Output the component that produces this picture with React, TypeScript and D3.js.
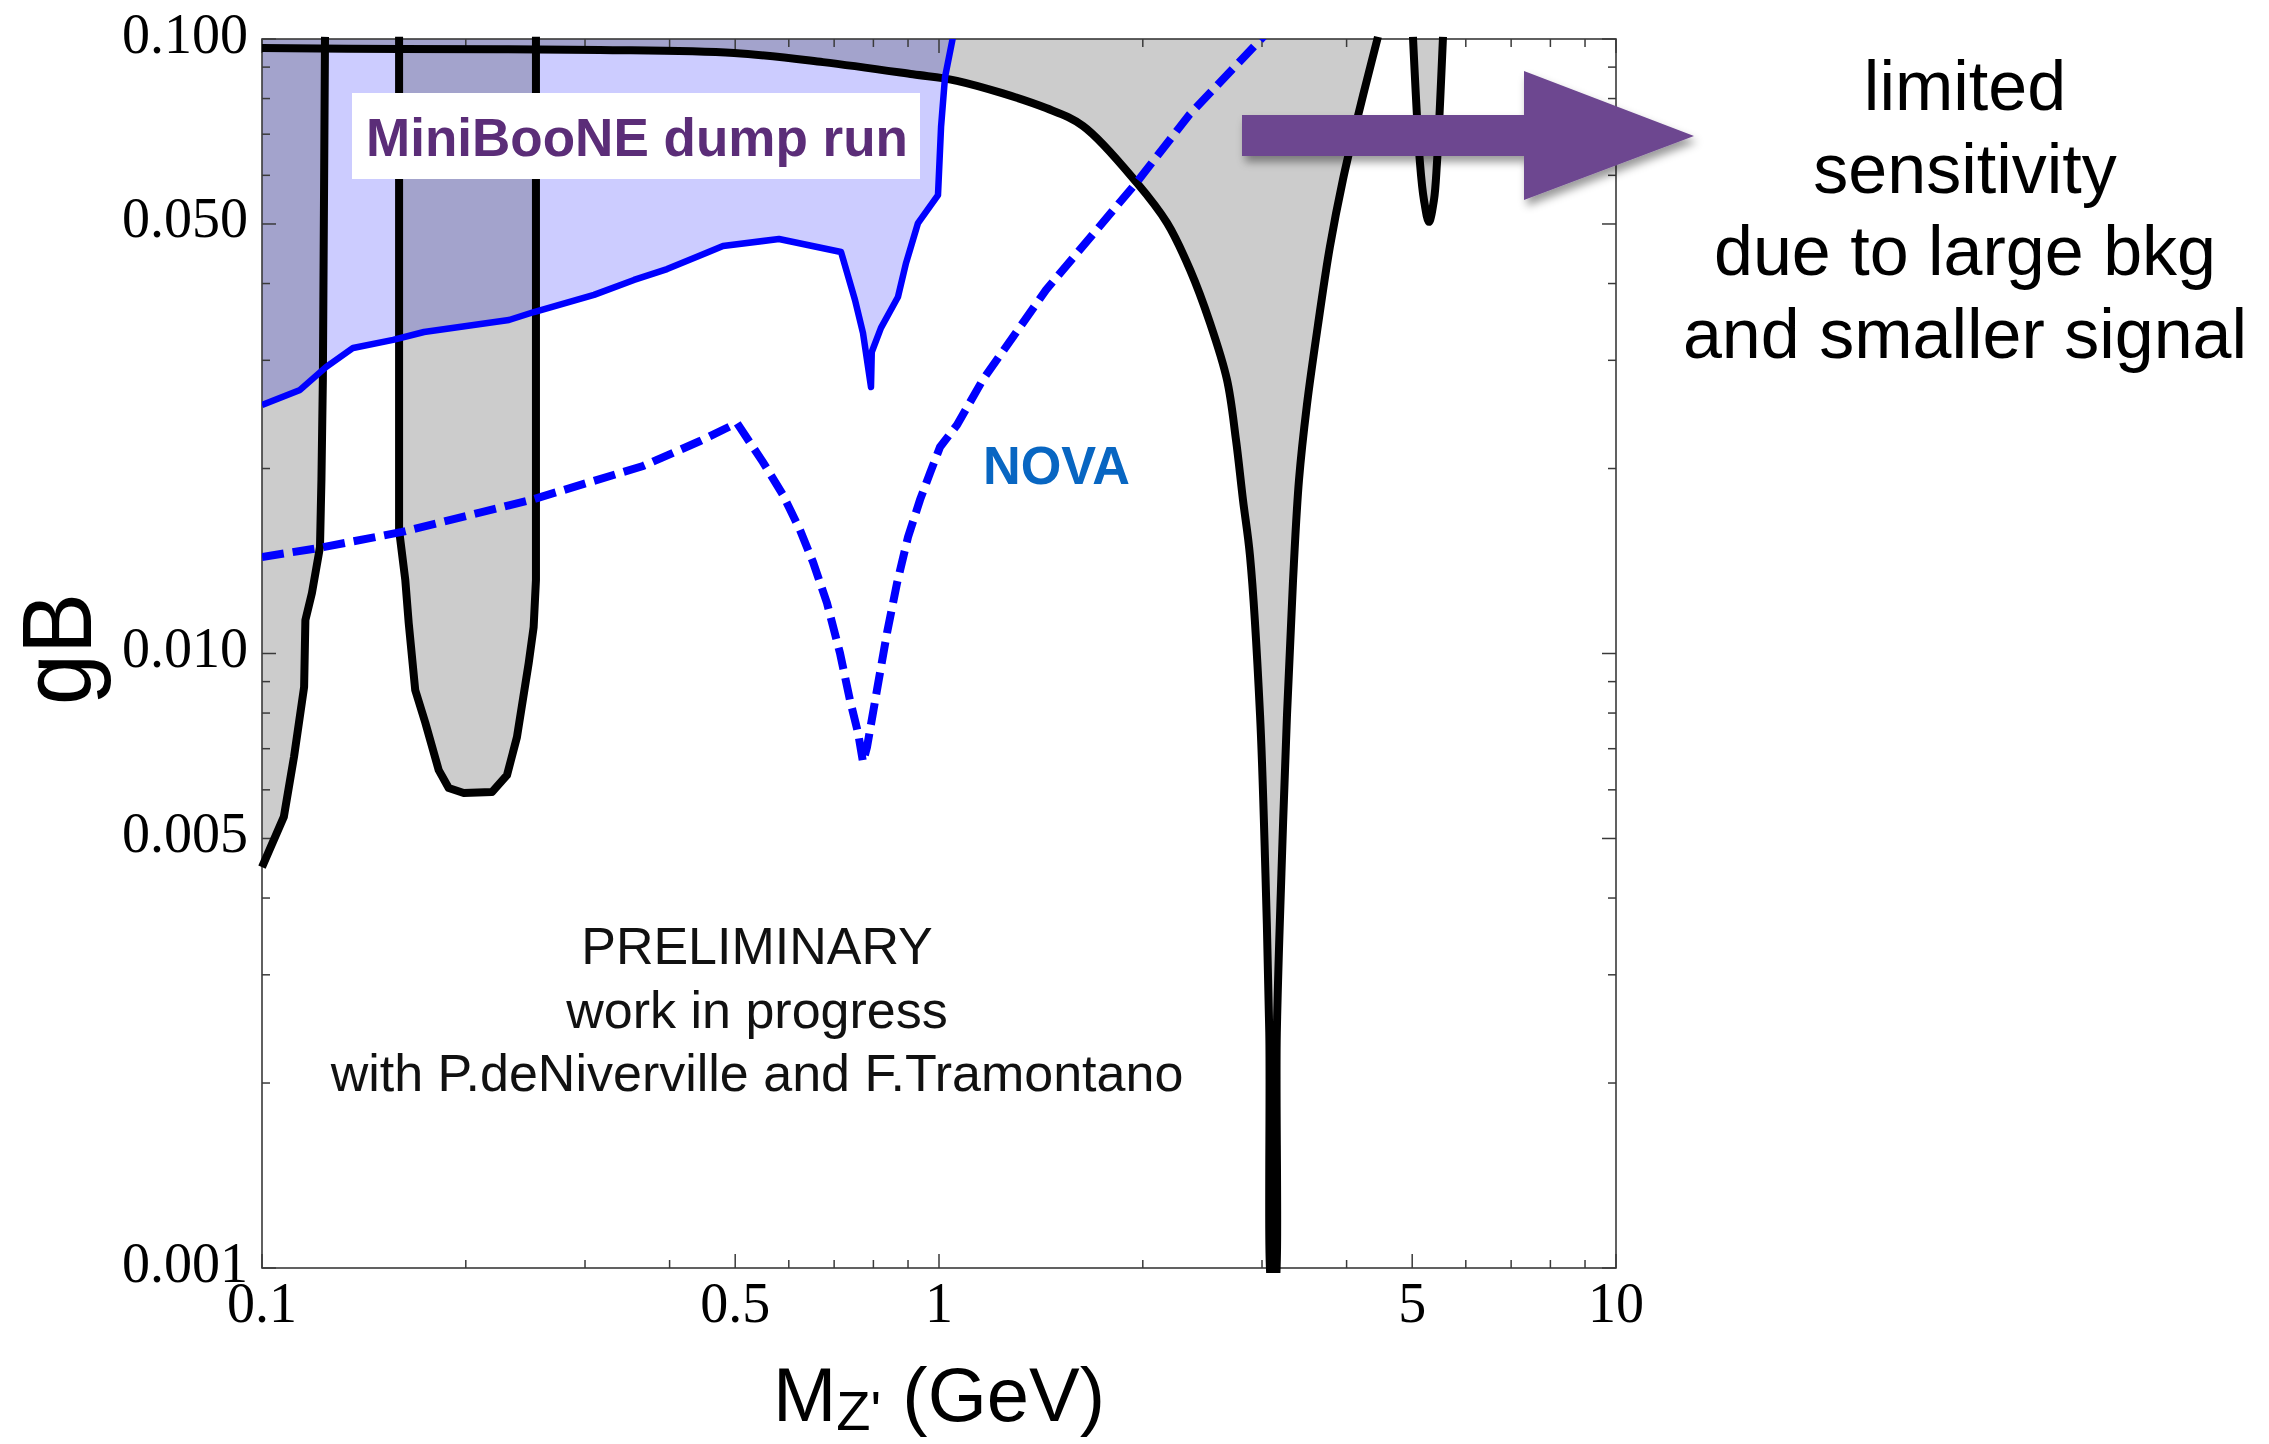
import React from 'react';
import * as d3 from 'd3';

type P = [number, number];

// ---- axes ----
const massMajorTicks = [0.1, 0.5, 1, 5, 10];
const massTickLabels = ['0.1', '0.5', '1', '5', '10'];
const massMinorTicks = [0.2, 0.3, 0.4, 0.6, 0.7, 0.8, 0.9, 2, 3, 4, 6, 7, 8, 9];
const gMajorTicks = [0.001, 0.005, 0.01, 0.05, 0.1];
const gTickLabels = ['0.001', '0.005', '0.010', '0.050', '0.100'];
const gMinorTicks = [0.002, 0.003, 0.004, 0.006, 0.007, 0.008, 0.009, 0.02, 0.03, 0.04, 0.06, 0.07, 0.08, 0.09];

// ---- existing constraints (black boundaries, grey fill) ----
const upperBoundary: P[] = [
  [0.1, 0.0967], [0.1599, 0.0963], [0.3156, 0.096], [0.498, 0.0949], [0.674, 0.0917],
  [0.915, 0.0876], [1.063, 0.0855], [1.439, 0.0772], [1.632, 0.0722], [1.961, 0.0583],
  [2.172, 0.0502], [2.349, 0.0421], [2.514, 0.0345], [2.663, 0.0279], [2.746, 0.02225],
  [2.812, 0.01778], [2.88, 0.01441], [2.98, 0.00794], [3.035, 0.00439], [3.075, 0.00242],
  [3.11, 0.0009], [3.125, 0.0009], [3.155, 0.00242], [3.205, 0.00439], [3.266, 0.00794],
  [3.333, 0.01307], [3.402, 0.01916], [3.495, 0.02538], [3.629, 0.03424], [3.779, 0.0459],
  [3.95, 0.059], [4.143, 0.0738], [4.287, 0.0858], [4.45, 0.1008],
];
const leftBoundary: P[] = [
  [0.1239, 0.1008], [0.123, 0.0279], [0.1224, 0.01916], [0.1218, 0.0149], [0.1185, 0.01254],
  [0.1159, 0.01133], [0.1154, 0.00882], [0.1115, 0.00679], [0.1077, 0.00542], [0.1, 0.00449],
];
const pocketBoundary: P[] = [
  [0.1594, 0.1008], [0.1594, 0.01589], [0.1628, 0.01317], [0.1647, 0.01121], [0.1684, 0.00872],
  [0.1743, 0.00771], [0.1824, 0.00646], [0.1887, 0.00604], [0.1986, 0.00593], [0.2186, 0.00595],
  [0.2301, 0.00634], [0.238, 0.00731], [0.2477, 0.00965], [0.2519, 0.01104], [0.2539, 0.01317],
  [0.2539, 0.1008],
];
const spikeBoundary: P[] = [
  [5.013, 0.1008], [5.134, 0.0628], [5.204, 0.0547], [5.293, 0.0504], [5.384, 0.0547],
  [5.439, 0.0628], [5.552, 0.1008],
];

// ---- MiniBooNE dump run (solid blue) ----
const miniBooNE: P[] = [
  [0.1, 0.02538], [0.1138, 0.02685], [0.1243, 0.02925], [0.1363, 0.03142], [0.1562, 0.03238],
  [0.1735, 0.03336], [0.2316, 0.03489], [0.2522, 0.03595], [0.3093, 0.03833], [0.3544, 0.04054],
  [0.3966, 0.04223], [0.4797, 0.04603], [0.5803, 0.04727], [0.7167, 0.04501], [0.7515, 0.03761],
  [0.7722, 0.03322], [0.7935, 0.02715], [0.7956, 0.03095], [0.8209, 0.03387], [0.8697, 0.03803],
  [0.8939, 0.04318], [0.9311, 0.05018], [0.9966, 0.05573], [1.007, 0.0719], [1.0207, 0.08672],
  [1.0488, 0.1008],
];

// ---- NOVA (dashed blue) ----
const nova: P[] = [
  [0.1, 0.01436], [0.1214, 0.01485], [0.161, 0.01577], [0.2497, 0.01778], [0.3654, 0.02019],
  [0.4436, 0.02217], [0.5031, 0.02372], [0.5495, 0.02049], [0.5884, 0.01811], [0.6232, 0.01589],
  [0.6514, 0.01409], [0.6832, 0.01208], [0.714, 0.01002], [0.7387, 0.0084], [0.7593, 0.00743],
  [0.7722, 0.00666], [0.7828, 0.00704], [0.8098, 0.00872], [0.8379, 0.0108], [0.867, 0.01302],
  [0.9, 0.01547], [0.9374, 0.01778], [0.9698, 0.01966], [1.0035, 0.02168], [1.063, 0.02354],
  [1.161, 0.0279], [1.439, 0.03905], [1.961, 0.05853], [2.341, 0.07522], [3.03, 0.1015],
];

const noteLines = ['PRELIMINARY', 'work in progress', 'with P.deNiverville and F.Tramontano'];
const sideLines = ['limited', 'sensitivity', 'due to large bkg', 'and smaller signal'];

const W = 2269;
const H = 1444;
const L = 262, R = 1616, T = 39, B = 1268;

export default function App() {
  const x = d3.scaleLog().domain([0.1, 10]).range([L, R]);
  const y = d3.scaleLog().domain([0.001, 0.1]).range([B, T]);
  const lin = d3.line<P>().x(d => x(d[0])).y(d => y(d[1]));
  const smooth = d3.line<P>().x(d => x(d[0])).y(d => y(d[1])).curve(d3.curveCatmullRom.alpha(0.5));
  const corner = (m: number, g: number) => `L${x(m)},${y(g)}`;

  const upperFill = smooth(upperBoundary) + corner(4.45, 0.1) + corner(0.1, 0.1) + 'Z';
  const leftFill = lin(leftBoundary) + corner(0.1, 0.1) + 'Z';
  const pocketFill = lin(pocketBoundary) + 'Z';
  const spikeFill = smooth(spikeBoundary) + 'Z';
  const lavFill = lin(miniBooNE) + corner(0.1, 0.1) + 'Z';

  const sans = '"Liberation Sans", Arial, Helvetica, sans-serif';
  const serif = '"Liberation Serif", "Times New Roman", serif';
  const frame = '#3a3a3a';

  const tickLines: JSX.Element[] = [];
  const addY = (v: number, len: number, k: string) => {
    const yy = y(v);
    tickLines.push(<line key={'yl' + k} x1={L} x2={L + len} y1={yy} y2={yy} stroke={frame} strokeWidth={1.5} />);
    tickLines.push(<line key={'yr' + k} x1={R} x2={R - len} y1={yy} y2={yy} stroke={frame} strokeWidth={1.5} />);
  };
  const addX = (v: number, len: number, k: string) => {
    const xx = x(v);
    tickLines.push(<line key={'xb' + k} x1={xx} x2={xx} y1={B} y2={B - len} stroke={frame} strokeWidth={1.5} />);
    tickLines.push(<line key={'xt' + k} x1={xx} x2={xx} y1={T} y2={T + len} stroke={frame} strokeWidth={1.5} />);
  };
  gMajorTicks.forEach((v, i) => addY(v, 14, 'M' + i));
  gMinorTicks.forEach((v, i) => addY(v, 8, 'm' + i));
  massMajorTicks.forEach((v, i) => addX(v, 14, 'M' + i));
  massMinorTicks.forEach((v, i) => addX(v, 8, 'm' + i));

  const arrowPts: [number, number][] = [
    [1242, 115], [1524, 115], [1524, 71], [1694, 136], [1524, 200], [1524, 156], [1242, 156],
  ];

  return (
    <svg width={W} height={H} viewBox={`0 0 ${W} ${H}`}
      style={{ position: 'absolute', left: 0, top: 0, background: '#fff' }}>
      <defs>
        <clipPath id="plotClip"><rect x={L} y={T} width={R - L} height={B - T} /></clipPath>
        <clipPath id="lineClip"><rect x={L - 4} y={T - 5} width={R - L + 8} height={B - T + 10} /></clipPath>
        <filter id="shadow" x="-10%" y="-20%" width="130%" height="160%">
          <feDropShadow dx="3" dy="6" stdDeviation="4" floodColor="#000" floodOpacity="0.4" />
        </filter>
      </defs>
      <rect x={0} y={0} width={W} height={H} fill="#fff" />

      {/* grey excluded regions */}
      <g clipPath="url(#plotClip)">
        <path d={upperFill} fill="#cccccc" />
        <path d={leftFill} fill="#cccccc" />
        <path d={pocketFill} fill="#cccccc" />
        <path d={spikeFill} fill="#cccccc" />
        <path d={lavFill} fill="#ccccff" style={{ mixBlendMode: 'multiply' }} />
      </g>

      {/* frame and ticks */}
      <rect x={L} y={T} width={R - L} height={B - T} fill="none" stroke={frame} strokeWidth={1.6} />
      {tickLines}

      {/* black boundaries */}
      <g clipPath="url(#lineClip)" fill="none" stroke="#000" strokeWidth={8} strokeLinejoin="round">
        <path d={smooth(upperBoundary) as string} />
        <path d={lin(leftBoundary) as string} />
        <path d={lin(pocketBoundary) as string} />
        <path d={smooth(spikeBoundary) as string} />
      </g>

      {/* blue curves */}
      <g clipPath="url(#plotClip)" fill="none" stroke="#0000ff">
        <path d={lin(miniBooNE) as string} strokeWidth={6.5} strokeLinejoin="round" />
        <path d={lin(nova) as string} strokeWidth={8} strokeDasharray="22 9" />
      </g>

      {/* tick labels */}
      {gMajorTicks.map((v, i) => (
        <text key={'gl' + i} x={248} y={y(v) + 13.5} textAnchor="end" fontFamily={serif} fontSize={56} fill="#000">
          {gTickLabels[i]}
        </text>
      ))}
      {massMajorTicks.map((v, i) => (
        <text key={'ml' + i} x={x(v)} y={1322} textAnchor="middle" fontFamily={serif} fontSize={56} fill="#000">
          {massTickLabels[i]}
        </text>
      ))}

      {/* axis titles */}
      <text transform="translate(91,649) rotate(-90)" textAnchor="middle" fontFamily={sans} fontSize={99}
        textLength={112} lengthAdjust="spacingAndGlyphs" fill="#000">gB</text>
      <text x={(L + R) / 2} y={1421} textAnchor="middle" fontFamily={sans} fontSize={76} fill="#000">
        M<tspan fontSize={56} dy={9}>Z'</tspan><tspan dy={-9}> (GeV)</tspan>
      </text>

      {/* MiniBooNE label */}
      <rect x={352} y={93} width={568} height={86} fill="#fff" />
      <text x={366} y={155.5} fontFamily={sans} fontWeight="bold" fontSize={53.5} fill="#5b2d78"
        textLength={542} lengthAdjust="spacingAndGlyphs">MiniBooNE dump run</text>

      {/* NOVA label */}
      <text x={983} y={484} fontFamily={sans} fontWeight="bold" fontSize={53} fill="#0866c2"
        textLength={147} lengthAdjust="spacingAndGlyphs">NOVA</text>

      {/* preliminary note */}
      {noteLines.map((t, i) => (
        <text key={'n' + i} x={757} y={964 + i * 63.5} textAnchor="middle" fontFamily={sans} fontSize={52} fill="#111">
          {t}
        </text>
      ))}

      {/* arrow */}
      <polygon points={arrowPts.map(p => p.join(',')).join(' ')} fill="#6d4790" filter="url(#shadow)" />

      {/* side note */}
      {sideLines.map((t, i) => (
        <text key={'s' + i} x={1965} y={110 + i * 82.7} textAnchor="middle" fontFamily={sans} fontSize={70} fill="#000">
          {t}
        </text>
      ))}
    </svg>
  );
}
